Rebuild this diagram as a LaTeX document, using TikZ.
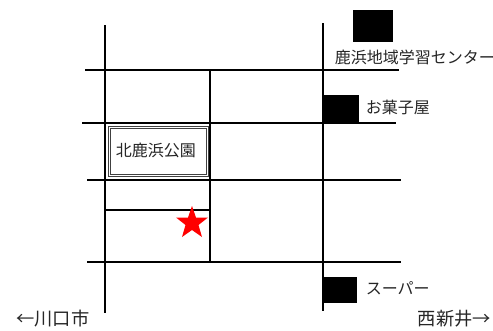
\documentclass[tikz,border=0pt]{standalone}
\usepackage{fontspec}
\setmainfont{Noto Sans CJK JP}
\begin{document}
\begin{tikzpicture}[x=0.75pt,y=-0.75pt,
  road/.style={draw=black,line width=1.5pt},
  lbl/.style={font=\fontsize{12pt}{14pt}\selectfont,text=black!85,inner sep=0pt,anchor=west},
  lblbig/.style={lbl,font=\fontsize{13.7pt}{16pt}\selectfont}]
\useasboundingbox (0,0) rectangle (493,330);
\fill[white] (0,0) rectangle (493,330);
\coordinate (v1t) at (105,25); \coordinate (v1b) at (105,313);
\coordinate (v2t) at (209.5,70); \coordinate (v2b) at (209.5,262);
\coordinate (v3t) at (323,23); \coordinate (v3b) at (323,311);
\coordinate (h1l) at (85,70); \coordinate (h1r) at (399,70);
\coordinate (h2l) at (82,122.5); \coordinate (h2r) at (396,122.5);
\coordinate (h3l) at (87,179.5); \coordinate (h3r) at (401,179.5);
\coordinate (h4l) at (87,262); \coordinate (h4r) at (401,262);
\coordinate (s5l) at (105,209.5); \coordinate (s5r) at (209.5,209.5);
\foreach \a/\b in {v1t/v1b,v2t/v2b,v3t/v3b,h1l/h1r,h2l/h2r,h3l/h3r,h4l/h4r,s5l/s5r}
  \draw[road] (\a) -- (\b);
\draw[black!75,line width=0.9pt] (108.5,126.5) rectangle (208.5,176.5);
\draw[black!75,line width=0.75pt] (110.8,128.8) rectangle (206.2,174.2);
\node[lbl,anchor=center] (parkt) at (155.8,150.3) {北鹿浜公園};
\fill[black] (353,10) rectangle (393,42);
\fill[black] (323,95) rectangle (359,122);
\fill[black] (323,277) rectangle (357,303);
\node[lbl] (t1) at (334.5,57.5) {鹿浜地域学習センター};
\node[lbl] (t2) at (365.5,107) {お菓子屋};
\node[lbl] (t3) at (365.5,288) {スーパー};
\node[lblbig] (t4) at (16,318.5) {←川口市};
\node[lblbig] (t5) at (417.5,318.5) {西新井→};
\fill[red] (192,206)
  -- (196,217.5) -- (208,217.5) -- (198.5,225) -- (202,237)
  -- (192,230) -- (182,237) -- (185.5,225) -- (176,217.5) -- (188,217.5) -- cycle;
\end{tikzpicture}
\end{document}
